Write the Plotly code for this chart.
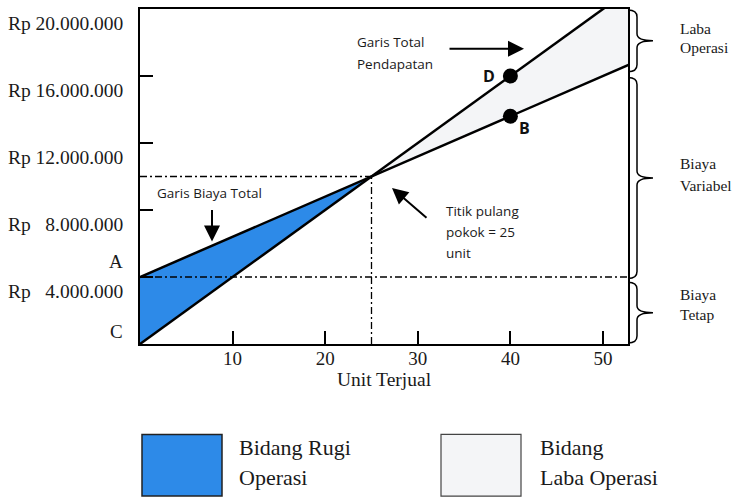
import plotly.graph_objects as go

# Break-even data: units sold vs. Rupiah
line_units = [0, 25, 55]
total_revenue = [0, 10_000_000, 22_000_000]
total_cost = [4_000_000, 10_000_000, 17_200_000]
fixed_cost = 4_000_000
bep_units = 25
bep_value = 10_000_000

point_labels = ["D", "B"]
point_units = [40, 40]
point_values = [16_000_000, 13_600_000]

x_ticks = [10, 20, 30, 40, 50]
y_ticks = [4_000_000, 8_000_000, 12_000_000, 16_000_000, 20_000_000]
y_tick_text = [
    "Rp\u00a0\u00a0\u00a04.000.000",
    "Rp\u00a0\u00a0\u00a08.000.000",
    "Rp 12.000.000",
    "Rp 16.000.000",
    "Rp 20.000.000",
]

X_MAX = 52.7
Y_MAX = 20_000_000

BLUE = "#2d8ae8"
PALE = "#f4f5f7"
SERIF = "Liberation Serif"
SANS = "Open Sans"

# plot-area box in pixels (used for placing free annotations)
L, R, T, B = 140, 628, 7, 344


def px(x):
    return (x - L) / (R - L)


def py(y):
    return (B - y) / (B - T)


fig = go.Figure()

# loss region: between cost and revenue up to break-even
loss_x = line_units[:2] + line_units[1::-1]
loss_y = total_cost[:2] + total_revenue[1::-1]
fig.add_trace(go.Scatter(x=loss_x, y=loss_y, mode="lines", fill="toself",
                         fillcolor=BLUE, line=dict(width=0), hoverinfo="skip"))

# profit region: between revenue and cost after break-even
prof_x = line_units[1:] + line_units[:0:-1]
prof_y = total_revenue[1:] + total_cost[:0:-1]
fig.add_trace(go.Scatter(x=prof_x, y=prof_y, mode="lines", fill="toself",
                         fillcolor=PALE, line=dict(width=0), hoverinfo="skip"))

# total revenue and total cost lines
fig.add_trace(go.Scatter(x=line_units, y=total_revenue, mode="lines",
                         line=dict(color="black", width=2.5)))
fig.add_trace(go.Scatter(x=line_units, y=total_cost, mode="lines",
                         line=dict(color="black", width=2.5)))

# points D and B
fig.add_trace(go.Scatter(x=point_units, y=point_values, mode="markers",
                         marker=dict(color="black", size=15), cliponaxis=False))

DASH = "7px,3px,2px,3px"
shapes = [
    dict(type="line", xref="paper", yref="y", x0=0, x1=1, y0=fixed_cost, y1=fixed_cost,
         line=dict(color="black", width=1.3, dash=DASH)),
    dict(type="line", xref="x", yref="y", x0=0, x1=bep_units, y0=bep_value, y1=bep_value,
         line=dict(color="black", width=1.3, dash=DASH)),
    dict(type="line", xref="x", yref="y", x0=bep_units, x1=bep_units, y0=0, y1=bep_value,
         line=dict(color="black", width=1.3, dash=DASH)),
]


# right-hand curly braces
def brace(y_top, y_bot):
    x0, xv, xt = px(628), px(637), px(653)
    yt, yb = py(y_top), py(y_bot)
    ym = (yt + yb) / 2
    r = 7 / (B - T)
    path = (f"M {x0},{yt} Q {xv},{yt} {xv},{yt - r} L {xv},{ym + r} "
            f"Q {xv},{ym} {xt},{ym} Q {xv},{ym} {xv},{ym - r} "
            f"L {xv},{yb + r} Q {xv},{yb} {x0},{yb}")
    return dict(type="path", xref="paper", yref="paper", path=path,
                line=dict(color="black", width=1.5))


shapes += [brace(8, 70), brace(76, 278), brace(282, 343)]

# legend boxes
shapes += [
    dict(type="rect", xref="paper", yref="paper", x0=px(142), x1=px(222), y0=py(497), y1=py(435),
         fillcolor=BLUE, line=dict(color="#222", width=1.5)),
    dict(type="rect", xref="paper", yref="paper", x0=px(441), x1=px(521), y0=py(497), y1=py(435),
         fillcolor=PALE, line=dict(color="#444", width=1.2)),
]

ann = []


def text(x, y, s, size, family, xanchor="left", bold=False):
    ann.append(dict(x=px(x), y=py(y), xref="paper", yref="paper", text=f"<b>{s}</b>" if bold else s,
                    showarrow=False, xanchor=xanchor, yanchor="middle", align="left",
                    font=dict(family=family, size=size, color="#1a1a1a")))


def arrow(hx, hy, tx, ty):
    ann.append(dict(x=px(hx), y=py(hy), xref="paper", yref="paper", text="",
                    showarrow=True, ax=tx - hx, ay=ty - hy, arrowhead=2, arrowsize=1.6,
                    arrowwidth=2, arrowcolor="black"))


text(355, 40, "Garis Total", 13.5, SANS)
text(355, 62, "Pendapatan", 13.5, SANS)
arrow(524, 47, 448, 47)

text(155, 192, "Garis Biaya Total", 13.5, SANS)
arrow(212, 241, 212, 208)

text(444, 210, "Titik pulang", 13.5, SANS)
text(444, 231, "pokok = 25", 13.5, SANS)
text(444, 252, "unit", 13.5, SANS)
arrow(392, 187, 428, 218)

text(125, 261, "A", 19, SERIF, xanchor="right")
text(125, 331, "C", 19, SERIF, xanchor="right")

text(678, 27, "Laba", 15.5, SERIF)
text(678, 46, "Operasi", 15.5, SERIF)
text(678, 162, "Biaya", 15.5, SERIF)
text(678, 185, "Variabel", 15.5, SERIF)
text(678, 294, "Biaya", 15.5, SERIF)
text(678, 314, "Tetap", 15.5, SERIF)

text(237, 448, "Bidang Rugi", 22, SERIF)
text(237, 478, "Operasi", 22, SERIF)
text(538, 448, "Bidang", 22, SERIF)
text(538, 478, "Laba Operasi", 22, SERIF)

# D / B point labels
for lab, ux, uv, dx, dy in zip(point_labels, point_units, point_values, [-21, 14], [0, -12]):
    ann.append(dict(x=ux, y=uv, xref="x", yref="y", text=f"<b>{lab}</b>", showarrow=False,
                    xshift=dx, yshift=dy, font=dict(family=SANS, size=16, color="#111")))

fig.update_layout(
    width=737, height=500,
    margin=dict(l=L, r=737 - R, t=T, b=500 - B),
    paper_bgcolor="white", plot_bgcolor="white",
    showlegend=False,
    shapes=shapes,
    annotations=ann,
    xaxis=dict(range=[0, X_MAX], tickvals=x_ticks, ticks="inside", ticklen=13, tickwidth=1.5,
               tickcolor="black", showline=True, linecolor="black", linewidth=1.5, mirror=True,
               showgrid=False, zeroline=False, ticklabelstandoff=-4,
               tickfont=dict(family=SERIF, size=19, color="#1a1a1a"),
               title=dict(text="Unit Terjual", font=dict(family=SERIF, size=19.5, color="#1a1a1a"),
                          standoff=2)),
    yaxis=dict(range=[0, Y_MAX], tickvals=y_ticks, ticktext=y_tick_text, ticks="inside",
               ticklen=13, tickwidth=1.5, tickcolor="black", showline=True, linecolor="black",
               linewidth=1.5, mirror=True, showgrid=False, zeroline=False,
               ticklabelshift=14, ticklabelstandoff=11,
               tickfont=dict(family=SERIF, size=19.5, color="#1a1a1a")),
)

fig.write_html("out.html")
